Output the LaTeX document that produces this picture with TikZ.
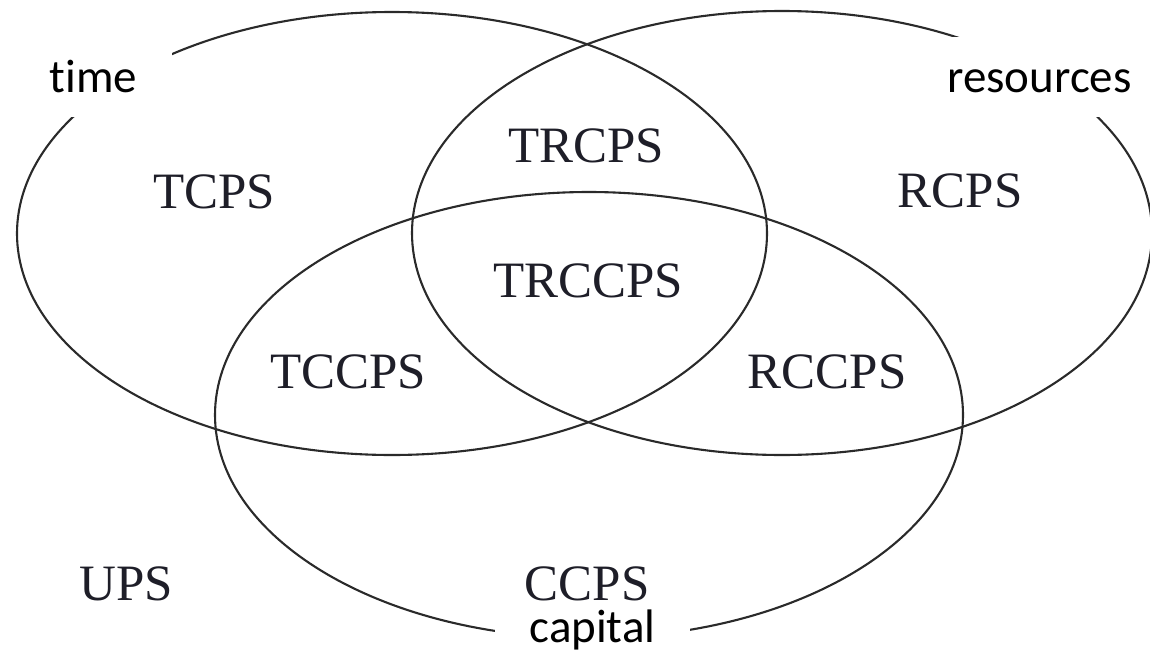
\documentclass[tikz,border=0pt]{standalone}
\usepackage{fontspec}
\setmainfont{Liberation Serif}
\newfontfamily\labelfont[Ligatures={NoCommon}]{Carlito}
\definecolor{setline}{HTML}{2A2A2A}
\definecolor{regiontext}{HTML}{1E1E28}
\begin{document}
\begin{tikzpicture}[x=1pt,y=-1pt,
  setcurve/.style={draw=setline, line width=2.1pt},
  region/.style={font=\fontsize{51}{51}\selectfont, text=regiontext, inner sep=0pt, anchor=base},
  setlabel/.style={font=\labelfont\fontsize{47}{47}\selectfont, text=black, fill=white,
    text height=35pt, text depth=5pt, inner xsep=35pt, inner ysep=20pt, anchor=base}]
\useasboundingbox (0,0) rectangle (1150,653);

% the three sets
\draw[setcurve] (392,233.5) ellipse [x radius=375pt, y radius=221.5pt];
\draw[setcurve] (782,233) ellipse [x radius=370pt, y radius=222pt];
\draw[setcurve] (589,415) ellipse [x radius=374pt, y radius=223pt];

% set names, on white so they break the outlines
\node[setlabel] (time) at (93.5,92) {time};
\node[setlabel] (resources) at (1039.5,92) {resources};
\node[setlabel] (capital) at (592.5,642) {capital};

% regions
\node[region] (trcps)  at (586,162) {TRCPS};
\node[region] (trccps) at (588,297) {TRCCPS};
\node[region] (tcps)   at (214,208) {TCPS};
\node[region] (rcps)   at (960,207) {RCPS};
\node[region] (tccps)  at (348,388) {TCCPS};
\node[region] (rccps)  at (827,388) {RCCPS};
\node[region] (ups)    at (126,600) {UPS};
\node[region] (ccps)   at (587,600) {CCPS};
\end{tikzpicture}
\end{document}
